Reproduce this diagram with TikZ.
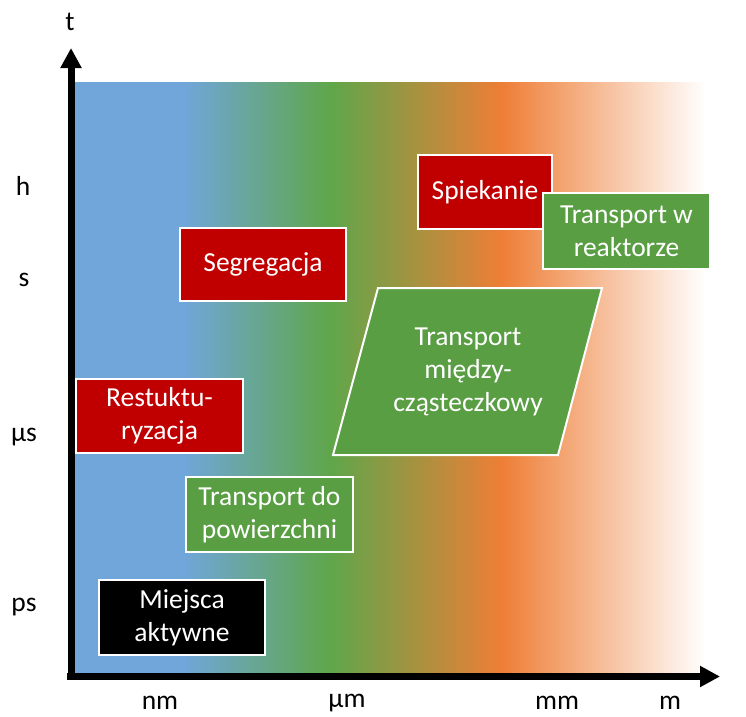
\documentclass[tikz,border=0pt]{standalone}
\usepackage{fontspec}
\setmainfont{Carlito}
\usetikzlibrary{arrows.meta}
\definecolor{cblue}{HTML}{70A6DA}
\definecolor{cgreen}{HTML}{5FA64A}
\definecolor{corange}{HTML}{EE7E36}
\definecolor{cred}{HTML}{C00000}
\definecolor{cbox}{HTML}{5A9E44}
\pgfdeclarehorizontalshading{scale}{100bp}{color(0bp)=(cblue); color(25bp)=(cblue); color(33.5bp)=(cblue); color(45bp)=(cgreen); color(58.5bp)=(corange); color(74.5bp)=(white); color(100bp)=(white)}

\begin{document}
\begin{tikzpicture}[x=1pt, y=-1pt,
    every node/.style = {font=\fontsize{27.5}{33}\selectfont},
    unit/.style = {inner sep=1pt},
    box/.style = {draw=white, line width=2pt, text=white, align=center, minimum width=166pt, minimum height=74pt},
    redbox/.style = {box, fill=cred},
    greenbox/.style = {box, fill=cbox},
    blackbox/.style = {box, fill=black},
    axis/.style = {line width=7pt, -{Triangle[width=20pt,length=20pt]}}]
    \useasboundingbox (0,0) rectangle (746,716);

    % scale background
    \shade[shading=scale] (75,82) rectangle (712,673);

    % axes
    \coordinate (yo) at (71,680);
    \coordinate (ytip) at (71,48);
    \coordinate (xo) at (67,676.5);
    \coordinate (xtip) at (720,676.5);
    \draw[axis] (yo) -- (ytip);
    \draw[axis] (xo) -- (xtip);

    \node[unit] (t) at (70,22) {t};
    \node[unit] (h) at (23,186) {h};
    \node[unit] (s) at (24,280) {s};
    \node[unit] (mus) at (24,437) {µs};
    \node[unit] (ps) at (24,607) {ps};
    \node[unit] (nm) at (160,703) {nm};
    \node[unit] (mum) at (347,703) {µm};
    \node[unit] (mm) at (557,703) {mm};
    \node[unit] (m) at (670,703) {m};

    % processes
    \node[redbox, minimum width=134pt] (spiek) at (485,192) {Spiekanie};
    \node[greenbox, minimum width=167pt, minimum height=76pt] (reakt) at (626.5,231) {Transport w\\reaktorze};
    \node[redbox, minimum height=73pt] (segr) at (263,264) {Segregacja};
    \node[redbox, minimum width=167pt] (restr) at (159.5,416) {Restuktu-\\ryzacja};
    \node[greenbox, minimum width=167pt, minimum height=75pt] (powierz) at (269.5,514.5) {Transport do\\powierzchni};
    \node[blackbox, minimum height=75pt] (aktyw) at (182,617.5) {Miejsca\\aktywne};

    \draw[draw=white, line width=2pt, fill=cbox] (378,288) -- (602,288) -- (558,455) -- (333,455) -- cycle;
    \node[text=white, align=center] (miedzy) at (468,372) {Transport\\między-\\cząsteczkowy};
\end{tikzpicture}
\end{document}
